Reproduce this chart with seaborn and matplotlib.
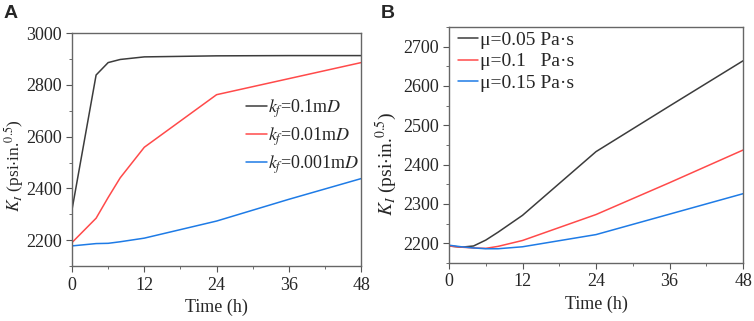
import numpy as np
import pandas as pd
import seaborn as sns
import matplotlib.pyplot as plt
from matplotlib.ticker import MultipleLocator

# panel A: fracture permeability
time_a = [0, 4, 6, 8, 12, 24, 36, 48]
kf_01 = [2318, 2838, 2886, 2898, 2908, 2912, 2913, 2913]
kf_001 = [2191, 2285, 2365, 2441, 2559, 2762, 2824, 2886]
kf_0001 = [2178, 2187, 2188, 2194, 2208, 2274, 2358, 2438]
labels_a = [r"$k_f$=0.1m$D$", r"$k_f$=0.01m$D$", r"$k_f$=0.001m$D$"]

# panel B: viscosity
time_b = [0, 2, 4, 6, 8, 12, 24, 36, 48]
mu_005 = [2193, 2190, 2193, 2208, 2228, 2271, 2433, 2549, 2664]
mu_01 = [2193, 2190, 2188, 2187, 2192, 2207, 2273, 2354, 2437]
mu_015 = [2195, 2191, 2188, 2186, 2186, 2191, 2222, 2274, 2326]
labels_b = ["μ=0.05 Pa·s", "μ=0.1   Pa·s", "μ=0.15 Pa·s"]

colors = ["#3c3c3c", "#ff4a4a", "#1e7be6"]

sns.set_style("ticks")
plt.rcParams['font.family'] = ['Liberation Serif', 'DejaVu Serif']
plt.rcParams['mathtext.fontset'] = 'stix'

dfa = pd.concat([pd.DataFrame({"t": time_a, "K": v, "s": lab})
                 for v, lab in zip([kf_01, kf_001, kf_0001], labels_a)])
dfb = pd.concat([pd.DataFrame({"t": time_b, "K": v, "s": lab})
                 for v, lab in zip([mu_005, mu_01, mu_015], labels_b)])

fig = plt.figure(figsize=(7.54, 3.21), dpi=100)
axA = fig.add_axes([0.0955, 0.171, 0.3835, 0.726])
axB = fig.add_axes([0.5955, 0.181, 0.39, 0.735])

ylab = r"$K_I$ (psi$\cdot$in.$^{0.5}$)"
for ax, df, labs in [(axA, dfa, labels_a), (axB, dfb, labels_b)]:
    sns.lineplot(data=df, x="t", y="K", hue="s", hue_order=labs,
                 palette=colors, linewidth=1.1, ax=ax)
    ax.set_xlim(0, 48)
    ax.xaxis.set_major_locator(MultipleLocator(12))
    ax.xaxis.set_minor_locator(MultipleLocator(6))
    ax.set_xlabel("Time (h)", fontsize=13)
    ax.tick_params(which='both', direction='out', labelsize=13,
                   color='#555555', top=False, right=False)
    ax.tick_params(which='major', length=4)
    ax.tick_params(which='minor', length=2.5)
    for sp in ax.spines.values():
        sp.set_color('#666666')
        sp.set_linewidth(1.0)

axA.set_ylabel(ylab, fontsize=12.5)
axA.yaxis.set_label_coords(-0.16, 0.43)
axB.set_ylabel(ylab, fontsize=14)
axB.yaxis.set_label_coords(-0.17, 0.42)

axA.set_ylim(2100, 3000)
axA.yaxis.set_major_locator(MultipleLocator(200))
axA.yaxis.set_minor_locator(MultipleLocator(100))
axA.legend(frameon=False, fontsize=13, loc='center right',
           bbox_to_anchor=(1.02, 0.555), handlelength=1.2, handletextpad=0.05,
           labelspacing=0.3, borderaxespad=0)

axB.set_ylim(2150, 2750)
axB.yaxis.set_major_locator(MultipleLocator(100))
axB.yaxis.set_minor_locator(MultipleLocator(50))
axB.legend(frameon=False, fontsize=14, loc='upper left',
           bbox_to_anchor=(0.005, 1.015), handlelength=1.0, handletextpad=0.1,
           labelspacing=0.2, borderaxespad=0)

fig.text(0.005, 0.985, "A", fontsize=14, fontweight='bold',
         family='Liberation Sans', va='top')
fig.text(0.505, 0.985, "B", fontsize=14, fontweight='bold',
         family='Liberation Sans', va='top')

fig.savefig("out.png", dpi=100)
